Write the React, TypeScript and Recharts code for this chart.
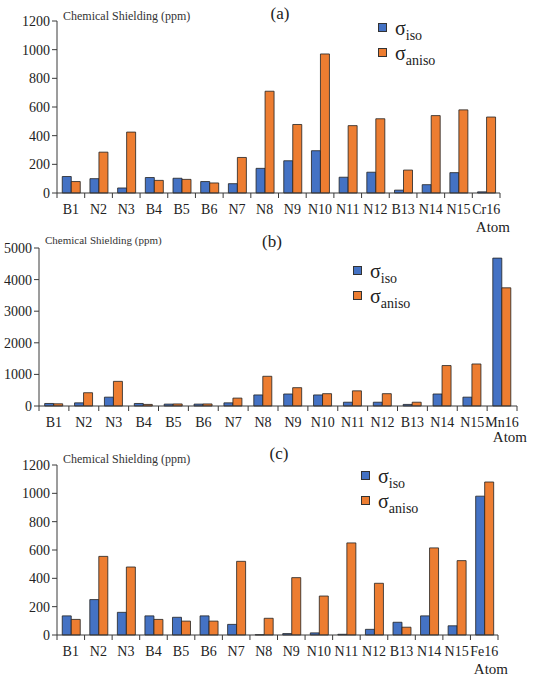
import React from 'react';
import { BarChart, Bar, XAxis, YAxis, Legend } from 'recharts';

const atomsA = ['B1', 'N2', 'N3', 'B4', 'B5', 'B6', 'N7', 'N8', 'N9', 'N10', 'N11', 'N12', 'B13', 'N14', 'N15', 'Cr16'];
const isoA = [115, 100, 35, 108, 103, 80, 65, 172, 225, 295, 110, 145, 20, 58, 142, 8];
const anisoA = [80, 285, 425, 88, 95, 70, 248, 710, 478, 970, 470, 518, 160, 540, 580, 530];

const atomsB = ['B1', 'N2', 'N3', 'B4', 'B5', 'B6', 'N7', 'N8', 'N9', 'N10', 'N11', 'N12', 'B13', 'N14', 'N15', 'Mn16'];
const isoB = [80, 100, 280, 80, 60, 60, 100, 350, 380, 350, 120, 120, 50, 380, 280, 4680];
const anisoB = [70, 420, 780, 50, 65, 65, 250, 940, 580, 390, 480, 390, 120, 1280, 1330, 3740];

const atomsC = ['B1', 'N2', 'N3', 'B4', 'B5', 'B6', 'N7', 'N8', 'N9', 'N10', 'N11', 'N12', 'B13', 'N14', 'N15', 'Fe16'];
const isoC = [135, 250, 160, 135, 125, 135, 75, 2, 10, 15, 5, 40, 90, 135, 65, 980];
const anisoC = [110, 555, 480, 110, 98, 98, 520, 118, 405, 275, 650, 365, 55, 615, 525, 1080];

const ticksAC = [0, 200, 400, 600, 800, 1000, 1200];
const ticksB = [0, 1000, 2000, 3000, 4000, 5000];

const seriesKeys = ['iso', 'aniso'];
const seriesSubs = ['iso', 'aniso'];
const seriesColors = ['#4472C4', '#ED7D31'];

const SERIF = '"Liberation Serif", "DejaVu Serif", "Noto Serif", "Times New Roman", serif';
const AXIS = '#3a3a3a';
const TICK = 5;
const MARGIN = 5;

function rows(atoms: string[], iso: number[], aniso: number[]) {
  return atoms.map((a, i) => ({ atom: a, iso: iso[i], aniso: aniso[i] }));
}

const CategoryTick = (props: any) => {
  const { x, y, payload, index, visibleTicksCount } = props;
  const off = payload?.offset || 0;
  const y0 = y - TICK - MARGIN;
  const last = index === visibleTicksCount - 1;
  return (
    <g>
      <line x1={x - off} x2={x - off} y1={y0} y2={y0 + TICK} stroke={AXIS} strokeWidth={1} />
      {last && <line x1={x + off} x2={x + off} y1={y0} y2={y0 + TICK} stroke={AXIS} strokeWidth={1} />}
      <text x={x} y={y} dy="0.75em" textAnchor="middle" fontSize={14} style={{ fontFamily: SERIF }} fill="#222">
        {payload.value}
      </text>
    </g>
  );
};

const LegendBox = (props: any) => {
  const payload = [...(props.payload || [])].sort(
    (a: any, b: any) => seriesKeys.indexOf(a.dataKey) - seriesKeys.indexOf(b.dataKey)
  );
  return (
    <div style={{ fontFamily: SERIF, color: '#222' }}>
      {payload.map((p: any) => {
        const idx = seriesKeys.indexOf(p.dataKey);
        return (
          <div key={p.dataKey} style={{ display: 'flex', alignItems: 'center', height: 25 }}>
            <span
              style={{
                display: 'inline-block',
                width: 7,
                height: 7,
                background: seriesColors[idx],
                border: '1px solid #333',
                marginRight: 8,
              }}
            />
            <span style={{ fontSize: 20, lineHeight: '20px' }}>
              σ<sub style={{ fontSize: 14, verticalAlign: 'sub', lineHeight: 0 }}>{seriesSubs[idx]}</sub>
            </span>
          </div>
        );
      })}
    </div>
  );
};

type PanelProps = {
  top: number;
  height: number;
  data: any[];
  ticks: number[];
  max: number;
  yWidth: number;
  right: number;
  mTop: number;
  xHeight: number;
  atomDy: number;
  tag: string;
  tagX: number;
  tagY: number;
  ylabDy: number;
  ylabSize: number;
  legendLeft: number;
  legendTop: number;
};

const Panel = (p: PanelProps) => (
  <div style={{ position: 'absolute', left: 0, top: p.top }}>
    <BarChart
      width={550}
      height={p.height}
      data={p.data}
      margin={{ top: p.mTop, right: p.right, bottom: 0, left: 0 }}
      barCategoryGap="19%"
      barGap={0}
    >
      <XAxis
        dataKey="atom"
        type="category"
        interval={0}
        height={p.xHeight}
        tickSize={TICK}
        tickMargin={MARGIN}
        tickLine={false}
        axisLine={{ stroke: AXIS, strokeWidth: 1 }}
        tick={<CategoryTick />}
        label={{
          content: (lp: any) => {
            const vb = lp.viewBox || {};
            return (
              <text
                x={vb.x + vb.width + 10}
                y={vb.y + p.atomDy}
                textAnchor="end"
                fontSize={15}
                style={{ fontFamily: SERIF }}
                fill="#222"
              >
                Atom
              </text>
            );
          },
        }}
      />
      <YAxis
        type="number"
        domain={[0, p.max]}
        ticks={p.ticks}
        interval={0}
        width={p.yWidth}
        tickSize={TICK}
        tickMargin={2}
        axisLine={{ stroke: AXIS, strokeWidth: 1 }}
        tickLine={{ stroke: AXIS, strokeWidth: 1 }}
        tick={{ fontSize: 14, fill: '#222', style: { fontFamily: SERIF } }}
        label={{
          content: (lp: any) => {
            const vb = lp.viewBox || {};
            return (
              <text
                x={vb.x + vb.width + 6}
                y={vb.y + p.ylabDy}
                textAnchor="start"
                fontSize={p.ylabSize}
                style={{ fontFamily: SERIF }}
                fill="#333"
              >
                Chemical Shielding (ppm)
              </text>
            );
          },
        }}
      />
      <Legend
        layout="horizontal"
        verticalAlign="middle"
        align="center"
        content={<LegendBox />}
        wrapperStyle={{ left: p.legendLeft, top: p.legendTop, width: 'auto', height: 'auto' }}
      />
      {seriesKeys.map((k, i) => (
        <Bar
          key={k}
          dataKey={k}
          name={'σ' + seriesSubs[i]}
          fill={seriesColors[i]}
          stroke="#222"
          strokeWidth={0.8}
          isAnimationActive={false}
        />
      ))}
      <text x={p.tagX} y={p.tagY} textAnchor="middle" fontSize={17} style={{ fontFamily: SERIF }} fill="#222">
        {p.tag}
      </text>
    </BarChart>
  </div>
);

export default function App() {
  return (
    <div style={{ position: 'absolute', left: 0, top: 0, width: 550, height: 680, background: '#fff' }}>
      <Panel
        top={0}
        height={240}
        data={rows(atomsA, isoA, anisoA)}
        ticks={ticksAC}
        max={1200}
        yWidth={57}
        right={50}
        mTop={21}
        xHeight={47}
        atomDy={39}
        tag="(a)"
        tagX={280}
        tagY={19}
        ylabDy={-1}
        ylabSize={12}
        legendLeft={378}
        legendTop={15}
      />
      <Panel
        top={226}
        height={225}
        data={rows(atomsB, isoB, anisoB)}
        ticks={ticksB}
        max={5000}
        yWidth={39}
        right={33}
        mTop={22}
        xHeight={45}
        atomDy={36}
        tag="(b)"
        tagX={272}
        tagY={21}
        ylabDy={-4}
        ylabSize={11}
        legendLeft={353}
        legendTop={32}
      />
      <Panel
        top={443}
        height={237}
        data={rows(atomsC, isoC, anisoC)}
        ticks={ticksAC}
        max={1200}
        yWidth={57}
        right={52}
        mTop={22}
        xHeight={45}
        atomDy={39}
        tag="(c)"
        tagX={279}
        tagY={16}
        ylabDy={-2}
        ylabSize={12}
        legendLeft={361}
        legendTop={20}
      />
    </div>
  );
}
